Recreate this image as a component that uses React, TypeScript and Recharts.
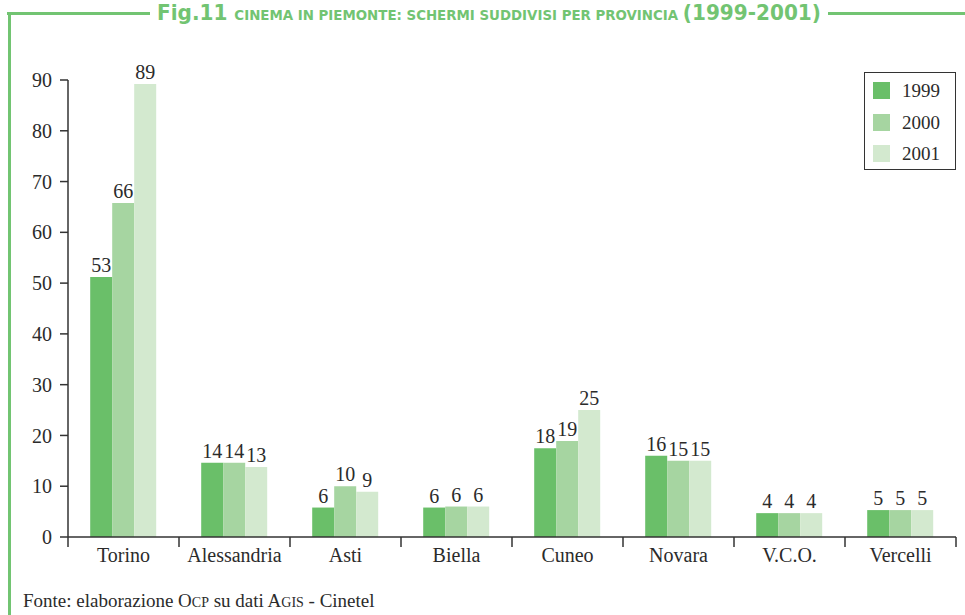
import React from 'react';
import { BarChart, Bar, XAxis, YAxis, LabelList, Legend } from 'recharts';

const categories = ['Torino', 'Alessandria', 'Asti', 'Biella', 'Cuneo', 'Novara', 'V.C.O.', 'Vercelli'];
const seriesNames = ['1999', '2000', '2001'];
// bar heights as drawn in the picture
const bars1999 = [51.2, 14.6, 5.8, 5.8, 17.5, 16.0, 4.7, 5.3];
const bars2000 = [65.8, 14.6, 10.0, 6.0, 18.9, 15.0, 4.7, 5.3];
const bars2001 = [89.2, 13.8, 8.9, 6.0, 25.0, 15.0, 4.7, 5.3];
// value labels as printed
const labels1999 = [53, 14, 6, 6, 18, 16, 4, 5];
const labels2000 = [66, 14, 10, 6, 19, 15, 4, 5];
const labels2001 = [89, 13, 9, 6, 25, 15, 4, 5];
const yTicks = [0, 10, 20, 30, 40, 50, 60, 70, 80, 90];

const colors = ['#6abf69', '#a6d5a1', '#d3e9cf'];
const GREEN = '#72c472';
const AXIS = '#333333';
const SERIF = "'Liberation Serif', 'Times New Roman', serif";

const data = categories.map((c, i) => ({
  name: c,
  v1999: bars1999[i],
  v2000: bars2000[i],
  v2001: bars2001[i],
  l1999: labels1999[i],
  l2000: labels2000[i],
  l2001: labels2001[i],
}));

const XTick = (props: any) => {
  const { x, y, payload, index, visibleTicksCount } = props;
  const off = payload && typeof payload.offset === 'number' ? payload.offset : 55.5;
  const isLast = index === (visibleTicksCount ?? categories.length) - 1;
  return (
    <g>
      <line x1={x - off} y1={y - 10} x2={x - off} y2={y} stroke={AXIS} strokeWidth={1.5} />
      {isLast && <line x1={x + off} y1={y - 10} x2={x + off} y2={y} stroke={AXIS} strokeWidth={1.5} />}
      <text x={x} y={y} dy={15} textAnchor="middle" fill="#2b2b2b" fontFamily={SERIF} fontSize={20}>
        {payload.value}
      </text>
    </g>
  );
};

const LegendBox = (props: any) => {
  const payload = props.payload || [];
  return (
    <div
      style={{
        width: 90,
        height: 96,
        border: '1px solid #333',
        background: '#fff',
        boxSizing: 'content-box',
        position: 'relative',
      }}
    >
      {payload.map((p: any, i: number) => (
        <div
          key={i}
          style={{ position: 'absolute', left: 8, top: 9 + i * 31.5, height: 17, display: 'flex', alignItems: 'center' }}
        >
          <div style={{ width: 17, height: 17, background: p.color }} />
          <span style={{ marginLeft: 12, fontFamily: SERIF, fontSize: 19, color: '#2b2b2b', lineHeight: '17px' }}>
            {p.value}
          </span>
        </div>
      ))}
    </div>
  );
};

export default function App() {
  return (
    <div style={{ position: 'absolute', left: 0, top: 0, width: 965, height: 615, background: '#fff' }}>
      <BarChart
        width={965}
        height={615}
        data={data}
        margin={{ top: 80, right: 9, bottom: 48, left: 8 }}
        barCategoryGap="20%"
        barGap={0}
      >
        <XAxis
          dataKey="name"
          tick={<XTick />}
          tickLine={false}
          tickSize={10}
          tickMargin={0}
          height={30}
          axisLine={{ stroke: AXIS, strokeWidth: 1.5 }}
          interval={0}
        />
        <YAxis
          domain={[0, 90]}
          ticks={yTicks}
          width={60}
          tickSize={8}
          tickMargin={8}
          axisLine={{ stroke: AXIS, strokeWidth: 1.5 }}
          tickLine={{ stroke: AXIS, strokeWidth: 1.5 }}
          tick={{ fill: '#2b2b2b', fontFamily: SERIF, fontSize: 20 }}
          interval={0}
        />
        <Legend
          layout="horizontal"
          verticalAlign="middle"
          align="center"
          content={<LegendBox />}
          wrapperStyle={{ position: 'absolute', left: 864, top: 72, width: 93, height: 99 }}
        />
        <Bar dataKey="v1999" name={seriesNames[0]} fill={colors[0]} isAnimationActive={false}>
          <LabelList dataKey="l1999" position="top" offset={5} fill="#2b2b2b" fontFamily={SERIF} fontSize={20} />
        </Bar>
        <Bar dataKey="v2000" name={seriesNames[1]} fill={colors[1]} isAnimationActive={false}>
          <LabelList dataKey="l2000" position="top" offset={5} fill="#2b2b2b" fontFamily={SERIF} fontSize={20} />
        </Bar>
        <Bar dataKey="v2001" name={seriesNames[2]} fill={colors[2]} isAnimationActive={false}>
          <LabelList dataKey="l2001" position="top" offset={5} fill="#2b2b2b" fontFamily={SERIF} fontSize={20} />
        </Bar>
      </BarChart>
      <svg
        width={965}
        height={615}
        style={{ position: 'absolute', left: 0, top: 0, pointerEvents: 'none' }}
      >
        <line x1={7} y1={13.5} x2={150} y2={13.5} stroke={GREEN} strokeWidth={3} />
        <line x1={828} y1={13.5} x2={965} y2={13.5} stroke={GREEN} strokeWidth={3} />
        <line x1={9.5} y1={12} x2={9.5} y2={615} stroke={GREEN} strokeWidth={3} />
        <text
          x={157}
          y={20}
          fill={GREEN}
          fontWeight="bold"
          fontFamily="'DejaVu Sans Condensed', 'Liberation Sans Narrow', 'Open Sans', sans-serif"
          textLength={664}
          lengthAdjust="spacingAndGlyphs"
        >
          <tspan fontSize={21}>Fig.11 </tspan>
          <tspan fontSize={14}>CINEMA IN PIEMONTE: SCHERMI SUDDIVISI PER PROVINCIA </tspan>
          <tspan fontSize={21}>(1999-2001)</tspan>
        </text>
        <text x={23} y={607} fill="#2b2b2b" fontFamily={SERIF} fontSize={19}>
          Fonte: elaborazione O<tspan fontSize={14}>CP</tspan> su dati A<tspan fontSize={14}>GIS</tspan> - Cinetel
        </text>
      </svg>
    </div>
  );
}
